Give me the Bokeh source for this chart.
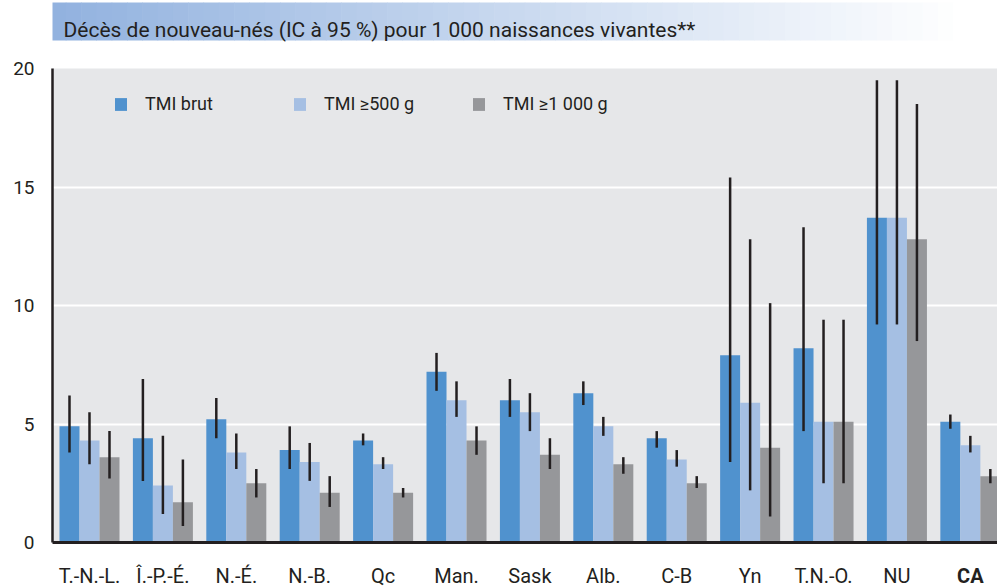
from bokeh.plotting import figure
from bokeh.layouts import column
from bokeh.models import ColumnDataSource, Range1d, FixedTicker, Legend, LegendItem
from bokeh.core.properties import value
from bokeh.embed import file_html
from bokeh.resources import INLINE

# ---- data ----
categories = ["T.-N.-L.", "Î.-P.-É.", "N.-É.", "N.-B.", "Qc", "Man.", "Sask", "Alb.",
              "C-B", "Yn", "T.N.-O.", "NU", "CA"]
series_names = ["TMI brut", "TMI \u2265500 g", "TMI \u22651 000 g"]

tmi_brut = [4.9, 4.4, 5.2, 3.9, 4.3, 7.2, 6.0, 6.3, 4.4, 7.9, 8.2, 13.7, 5.1]
brut_lo  = [3.8, 2.6, 4.4, 3.1, 4.1, 6.4, 5.3, 5.8, 4.0, 3.4, 4.7, 9.2, 4.8]
brut_hi  = [6.2, 6.9, 6.1, 4.9, 4.6, 8.0, 6.9, 6.8, 4.7, 15.4, 13.3, 19.5, 5.4]

tmi_500 = [4.3, 2.4, 3.8, 3.4, 3.3, 6.0, 5.5, 4.9, 3.5, 5.9, 5.1, 13.7, 4.1]
lo_500  = [3.3, 1.2, 3.1, 2.6, 3.1, 5.3, 4.7, 4.5, 3.2, 2.2, 2.5, 9.2, 3.8]
hi_500  = [5.5, 4.5, 4.6, 4.2, 3.6, 6.8, 6.3, 5.3, 3.9, 12.8, 9.4, 19.5, 4.5]

tmi_1000 = [3.6, 1.7, 2.5, 2.1, 2.1, 4.3, 3.7, 3.3, 2.5, 4.0, 5.1, 12.8, 2.8]
lo_1000  = [2.7, 0.7, 1.9, 1.5, 1.9, 3.7, 3.1, 2.9, 2.3, 1.1, 2.5, 8.5, 2.5]
hi_1000  = [4.7, 3.5, 3.1, 2.8, 2.3, 4.9, 4.4, 3.6, 2.8, 10.1, 9.4, 18.5, 3.1]

y_ticks = [0, 5, 10, 15, 20]
title_text = "Décès de nouveau-nés (IC à 95 %) pour 1 000 naissances vivantes**"

# ---- style ----
FONT = "Roboto"
TXT = "#231F20"
colors = ["#5092CE", "#A5BFE3", "#96979A"]
BW = 0.2725
W = 997
LEFT = 52

# ---- title banner figure ----
HB = 44
fb = figure(width=W, height=HB, output_backend="svg", toolbar_location=None,
            x_range=Range1d(LEFT, W), y_range=Range1d(0, HB),
            x_axis_type=None, y_axis_type=None,
            min_border_left=LEFT, min_border_right=0, min_border_top=0, min_border_bottom=0)
fb.outline_line_color = None
fb.grid.visible = False
fb.border_fill_color = "white"
fb.background_fill_color = "white"
start_rgb = (146, 178, 223)
n_strips = 60
x0_px, x1_px = 50, 968
lefts, rights, cols = [], [], []
for s in range(n_strips):
    t = s / (n_strips - 1)
    c = tuple(int(round(a + (255 - a) * t)) for a in start_rgb)
    lefts.append(x0_px + (x1_px - x0_px) * s / n_strips)
    rights.append(x0_px + (x1_px - x0_px) * (s + 1) / n_strips + 0.6)
    cols.append("#%02x%02x%02x" % c)
fb.quad(left=lefts, right=rights, bottom=HB - 40, top=HB - 2, fill_color=cols, line_color=None)
fb.text(x=[63], y=[HB - 29], text=[title_text], text_font=value(FONT),
        text_font_size="21px", text_color=TXT, text_baseline="alphabetic")

# ---- main chart ----
HM = 514
p = figure(width=W, height=HM, output_backend="svg", toolbar_location=None,
           x_range=Range1d(-0.504, 12.37), y_range=Range1d(0, 20),
           min_border_left=LEFT, min_border_right=0, min_border_top=24, min_border_bottom=16)
p.background_fill_color = "#E6E7E9"
p.border_fill_color = "white"
p.outline_line_color = None
p.xgrid.visible = False
p.ygrid.ticker = FixedTicker(ticks=y_ticks)
p.ygrid.grid_line_color = "white"
p.ygrid.grid_line_width = 2

p.yaxis.ticker = FixedTicker(ticks=y_ticks)
p.yaxis.major_tick_line_color = None
p.yaxis.minor_tick_line_color = None
p.yaxis.axis_line_color = TXT
p.yaxis.axis_line_width = 2.5
p.yaxis.major_label_text_font = FONT
p.yaxis.major_label_text_font_size = "19px"
p.yaxis.major_label_text_color = TXT
p.yaxis.major_label_standoff = 12

p.xaxis.ticker = FixedTicker(ticks=[])
p.xaxis.major_tick_line_color = None
p.xaxis.minor_tick_line_color = None
p.xaxis.axis_line_color = TXT
p.xaxis.axis_line_width = 3

idx = list(range(len(categories)))
vals = [tmi_brut, tmi_500, tmi_1000]
los = [brut_lo, lo_500, lo_1000]
his = [brut_hi, hi_500, hi_1000]
offsets = [-BW, 0.0, BW]

items = []
for k in range(3):
    src = ColumnDataSource(dict(x=[i + offsets[k] for i in idx], top=vals[k],
                                lo=los[k], hi=his[k]))
    r = p.vbar(x="x", top="top", bottom=0, width=BW, source=src,
               fill_color=colors[k], line_color=None)
    p.segment(x0="x", y0="lo", x1="x", y1="hi", source=src,
              line_color=TXT, line_width=2.5)
    items.append(LegendItem(label=series_names[k], renderers=[r]))

legend = Legend(items=items, orientation="horizontal", location=(61, 428),
                padding=0, margin=0, spacing=0, glyph_width=15, glyph_height=16,
                label_standoff=17, label_width=147,
                label_text_font=FONT, label_text_font_size="18px", label_text_color=TXT,
                background_fill_alpha=0, border_line_color=None)
p.add_layout(legend)

# ---- category labels strip (shares x scale) ----
HL = 588 - HB - HM
fl = figure(width=W, height=HL, output_backend="svg", toolbar_location=None,
            x_range=p.x_range, y_range=Range1d(0, HL),
            x_axis_type=None, y_axis_type=None,
            min_border_left=LEFT, min_border_right=0, min_border_top=0, min_border_bottom=0)
fl.outline_line_color = None
fl.grid.visible = False
fl.background_fill_color = "white"
fl.border_fill_color = "white"
lab_src = ColumnDataSource(dict(x=idx, y=[HL - 17] * len(idx), text=categories,
                                style=["bold" if c == "CA" else "normal" for c in categories]))
fl.text(x="x", y="y", text="text", source=lab_src, text_align="center",
        text_baseline="middle", text_font=value(FONT), text_font_size="20px",
        text_color=TXT, text_font_style="style")

layout = column(fb, p, fl, spacing=0)
open("out.html", "w").write(file_html(layout, INLINE))
